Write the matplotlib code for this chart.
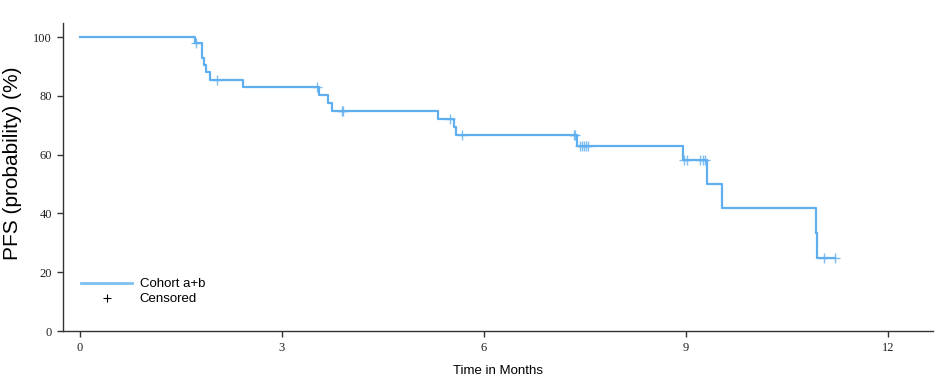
import numpy as np
import matplotlib
matplotlib.use("Agg")
import matplotlib.pyplot as plt
from matplotlib.lines import Line2D

# Kaplan-Meier step data (months, PFS %)
event_times = [0.0, 1.71, 1.82, 1.85, 1.88, 1.94, 2.43, 3.55, 3.68, 3.75,
               5.32, 5.55, 5.58, 7.39, 8.96, 9.31, 9.53, 10.93, 10.95]
surv_pct = [100.0, 97.9, 93.0, 90.5, 88.0, 85.4, 83.0, 80.3, 77.7, 74.8,
            72.1, 69.5, 66.6, 63.0, 58.2, 49.9, 41.7, 33.2, 24.7]
end_time = 11.22
censor_times = [1.73, 2.04, 3.52, 3.89, 3.91, 5.50, 5.68, 7.34, 7.36,
                7.43, 7.46, 7.48, 7.51, 7.54, 8.97, 9.01, 9.21, 9.25, 9.29,
                11.05, 11.22]

x_ticks = [0, 3, 6, 9, 12]
y_ticks = [0, 20, 40, 60, 80, 100]
series_label = "Cohort a+b"
censor_label = "Censored"
x_label = "Time in Months"
y_label = "PFS (probability) (%)"

color = "#5eaef0"

fig = plt.figure(figsize=(9.39, 3.83), dpi=100)
ax = fig.add_axes([63/939, 1-331/383, (933-63)/939, (331-23)/383])

xs = event_times + [end_time]
ys = surv_pct + [surv_pct[-1]]
ax.step(xs, ys, where="post", color=color, lw=1.6)

et = np.array(event_times)
sv = np.array(surv_pct)
cy = [sv[np.searchsorted(et, t, side="right") - 1] for t in censor_times]
ax.plot(censor_times, cy, ls="none", marker="+", ms=7, mew=1.0, color=color, alpha=0.8)

ax.set_xlim(-0.25, 12.67)
ax.set_ylim(0, 104.8)
ax.set_xticks(x_ticks)
ax.set_yticks(y_ticks)
ax.spines["top"].set_visible(False)
ax.spines["right"].set_visible(False)
for s in ("left", "bottom"):
    ax.spines[s].set_color("#333333")
    ax.spines[s].set_linewidth(1.0)
ax.tick_params(direction="out", length=4, width=1, color="#333333",
               labelsize=9, labelcolor="#222222", pad=4)
for lab in ax.get_xticklabels() + ax.get_yticklabels():
    lab.set_fontfamily("Liberation Serif")

ax.set_xlabel(x_label, fontfamily="Liberation Sans", fontsize=9.5, labelpad=8)
ax.set_ylabel(y_label, fontfamily="Liberation Sans", fontsize=15)
ax.yaxis.set_label_coords(-0.047, 0.545)

handles = [Line2D([], [], color="#80c0f0", lw=2),
           Line2D([], [], ls="none", marker="+", color="black", ms=6, mew=0.8)]
ax.legend(handles, [series_label, censor_label], loc="lower left",
          bbox_to_anchor=(0.007, 0.045), frameon=False, handlelength=3.9,
          prop={"family": "Liberation Sans", "size": 9.5}, labelspacing=0.2,
          handletextpad=0.55)

fig.savefig("out.png", dpi=100)
